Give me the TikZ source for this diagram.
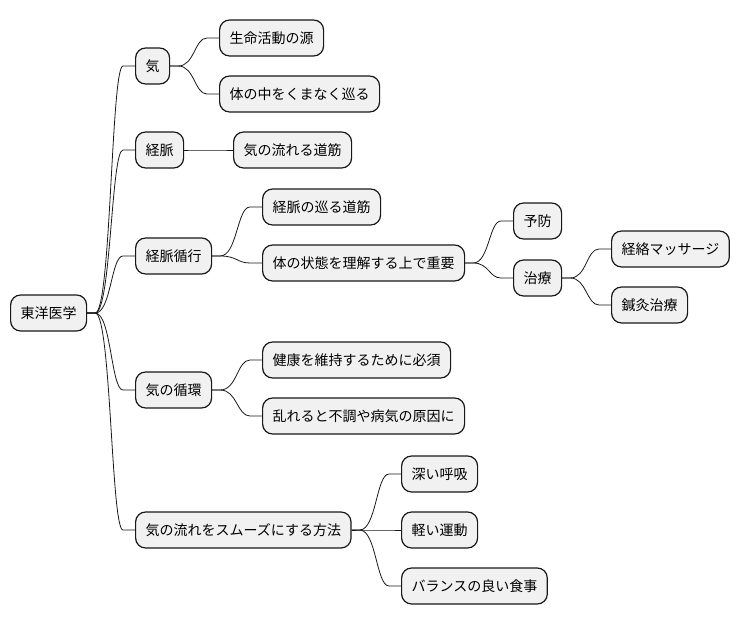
\documentclass[tikz,border=0pt]{standalone}
\usepackage{fontspec}
\setmainfont{Noto Sans CJK JP}
\usetikzlibrary{calc}
\definecolor{boxfill}{HTML}{F1F1F1}
\definecolor{boxline}{HTML}{181818}
\begin{document}
\begin{tikzpicture}[x=1pt,y=-1pt,
  box/.style={draw=boxline, line width=1.2pt, fill=boxfill, rounded corners=10pt,
    minimum height=36pt, inner xsep=10pt, inner ysep=0pt, anchor=west,
    font=\fontsize{14}{16}\selectfont, text=black},
  link/.style={draw=boxline, line width=0.8pt}]
\useasboundingbox (0,0) rectangle (740,626);
% level 0
\node[box] (root) at (10,313) {東洋医学};
% level 1
\node[box] (ki) at (135,66) {気};
\node[box] (keimyaku) at (135,150) {経脈};
\node[box] (junko) at (135,256) {経脈循行};
\node[box] (junkan) at (135,390) {気の循環};
\node[box] (hoho) at (135,530) {気の流れをスムーズにする方法};
% level 2
\node[box] (seimei) at (219,38) {生命活動の源};
\node[box] (karada) at (219,94) {体の中をくまなく巡る};
\node[box] (michi) at (233,150) {気の流れる道筋};
\node[box] (meguru) at (262,207) {経脈の巡る道筋};
\node[box] (jotai) at (262,263) {体の状態を理解する上で重要};
\node[box] (kenko) at (262,360) {健康を維持するために必須};
\node[box] (midare) at (262,416) {乱れると不調や病気の原因に};
\node[box] (kokyu) at (401,474) {深い呼吸};
\node[box] (undo) at (401,530) {軽い運動};
\node[box] (shokuji) at (401,586) {バランスの良い食事};
% level 3
\node[box] (yobo) at (513,221) {予防};
\node[box] (chiryo) at (513,278) {治療};
% level 4
\node[box] (massage) at (611,249) {経絡マッサージ};
\node[box] (shinkyu) at (611,305) {鍼灸治療};
% connectors
\foreach \a/\b in {root/ki, root/keimyaku, root/junko, root/junkan, root/hoho,
  ki/seimei, ki/karada, keimyaku/michi, junko/meguru, junko/jotai,
  jotai/yobo, jotai/chiryo, chiryo/massage, chiryo/shinkyu,
  junkan/kenko, junkan/midare, hoho/kokyu, hoho/undo, hoho/shokuji}{
  \draw[link] let \p1=(\a.east), \p2=(\b.west) in
    (\p1) -- (\x1+8pt,\y1)
    .. controls ({(\x1+\x2)/2},\y1) and ({(\x1+\x2)/2},\y2) .. (\x2-12pt,\y2)
    -- (\p2);
}
\end{tikzpicture}
\end{document}
